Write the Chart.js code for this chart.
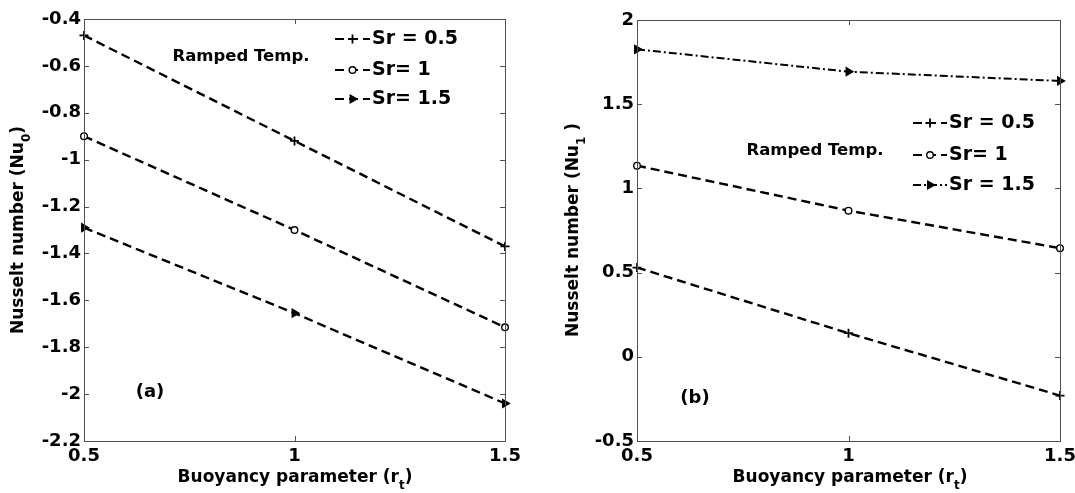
<!DOCTYPE html>
<html><head><meta charset="utf-8">
<script src="https://cdn.jsdelivr.net/npm/chart.js@4"></script>
<style>
html,body{margin:0;padding:0;background:#fff;width:1075px;height:493px;overflow:hidden;position:relative}
canvas{position:absolute;top:0}
#ca{left:0px} #cb{left:540px}
</style></head><body>
<canvas id="ca" width="540" height="493"></canvas>
<canvas id="cb" width="545" height="493"></canvas>
<script>
// ---- data ----
const buoyancy = [0.5, 1, 1.5];
const xTicks = [0.5, 1, 1.5];
const nu0Ticks = [-2.2, -2, -1.8, -1.6, -1.4, -1.2, -1, -0.8, -0.6, -0.4];
const nu1Ticks = [-0.5, 0, 0.5, 1, 1.5, 2];
const nu0Sr05 = [-0.47, -0.92, -1.37];
const nu0Sr1 = [-0.90, -1.30, -1.715];
const nu0Sr15 = [-1.29, -1.655, -2.04];
const nu1Sr05 = [0.53, 0.14, -0.23];
const nu1Sr1 = [1.135, 0.868, 0.645];
const nu1Sr15 = [1.826, 1.693, 1.638];
const legendA = ['Sr = 0.5', 'Sr= 1', 'Sr= 1.5'];
const legendB = ['Sr = 0.5', 'Sr= 1', 'Sr = 1.5'];

const FONT = "'DejaVu Sans', Verdana, sans-serif";
Chart.defaults.color = '#000';
Chart.defaults.font.family = FONT;

function pts(ys) { return buoyancy.map((x, i) => ({x: x, y: ys[i]})); }

function ds(label, ys, marker, dash, width) {
  const base = {
    label: label, data: pts(ys), borderColor: '#000', borderWidth: width || 2.4,
    borderDash: dash, tension: 0, fill: false, clip: false,
    pointBorderColor: '#000', pointBorderWidth: 1.4, pointHoverRadius: 0
  };
  if (marker === 'plus') Object.assign(base, {pointStyle: 'cross', pointRadius: 4.5, pointBackgroundColor: '#000', pointBorderWidth: 1.8});
  if (marker === 'circle') Object.assign(base, {pointStyle: 'circle', pointRadius: 3.3, pointBackgroundColor: '#fff'});
  if (marker === 'tri') Object.assign(base, {pointStyle: 'triangle', pointRotation: 90, pointRadius: 4.5, pointBackgroundColor: '#000'});
  return base;
}

function drawParts(ctx, parts, x, y, rot, size) {
  ctx.save();
  ctx.translate(x, y);
  ctx.rotate(rot);
  const big = 'bold ' + size + 'px ' + FONT;
  const small = 'bold ' + Math.round(size * 0.72) + 'px ' + FONT;
  let total = 0;
  parts.forEach(p => { ctx.font = p.sub ? small : big; total += ctx.measureText(p.t).width; });
  let cx = -total / 2;
  ctx.textBaseline = 'middle';
  ctx.textAlign = 'left';
  ctx.fillStyle = '#000';
  parts.forEach(p => {
    ctx.font = p.sub ? small : big;
    ctx.fillText(p.t, cx, p.sub ? size * 0.45 : 0);
    cx += ctx.measureText(p.t).width;
  });
  ctx.restore();
}

const decoPlugin = {
  id: 'deco',
  afterDatasetsDraw(chart, args, o) {
    const ctx = chart.ctx;
    const a = chart.chartArea;
    const xs = chart.scales.x, ys = chart.scales.y;
    // box + inward ticks
    ctx.save();
    ctx.strokeStyle = '#505050';
    ctx.lineWidth = 1;
    ctx.strokeRect(Math.round(a.left) + 0.5, Math.round(a.top) + 0.5, Math.round(a.right - a.left), Math.round(a.bottom - a.top));
    ctx.beginPath();
    xs.ticks.forEach(t => {
      const px = Math.round(xs.getPixelForValue(t.value)) + 0.5;
      ctx.moveTo(px, a.bottom); ctx.lineTo(px, a.bottom - 5);
      ctx.moveTo(px, a.top); ctx.lineTo(px, a.top + 5);
    });
    ys.ticks.forEach(t => {
      const py = Math.round(ys.getPixelForValue(t.value)) + 0.5;
      ctx.moveTo(a.left, py); ctx.lineTo(a.left + 5, py);
      ctx.moveTo(a.right, py); ctx.lineTo(a.right - 5, py);
    });
    ctx.stroke();
    ctx.restore();
    // legend
    const L = o.legend;
    chart.data.datasets.forEach((d, i) => {
      const y = L.ys[i];
      ctx.save();
      ctx.strokeStyle = '#000';
      ctx.lineWidth = 2.2;
      ctx.setLineDash(d.borderDash);
      ctx.beginPath(); ctx.moveTo(L.x0, y); ctx.lineTo(L.x1, y); ctx.stroke();
      ctx.setLineDash([]);
      ctx.fillStyle = d.pointBackgroundColor;
      ctx.strokeStyle = '#000';
      ctx.lineWidth = d.pointBorderWidth;
      Chart.helpers.drawPoint(ctx, {pointStyle: d.pointStyle, rotation: d.pointRotation || 0, radius: d.pointRadius, borderWidth: d.pointBorderWidth}, (L.x0 + L.x1) / 2, y);
      ctx.fillStyle = '#000';
      ctx.font = 'bold 19px ' + FONT;
      ctx.textBaseline = 'middle';
      ctx.textAlign = 'left';
      ctx.fillText(d.label, L.tx, y);
      ctx.restore();
    });
    // notes and axis titles
    o.notes.forEach(n => drawParts(ctx, [{t: n.t}], n.x, n.y, 0, n.size));
    drawParts(ctx, o.yTitle.parts, o.yTitle.x, o.yTitle.y, -Math.PI / 2, 17);
    drawParts(ctx, o.xTitle.parts, o.xTitle.x, o.xTitle.y, 0, 17);
  }
};

function makeChart(id, datasets, yTicks, plot, deco) {
  const cv = document.getElementById(id);
  return new Chart(cv, {
    type: 'line',
    data: {datasets: datasets},
    plugins: [decoPlugin],
    options: {
      responsive: false, animation: false, devicePixelRatio: 1,
      layout: {padding: {top: plot.top, right: cv.width - plot.right, left: 0, bottom: 0}},
      plugins: {legend: {display: false}, tooltip: {enabled: false}, deco: deco},
      scales: {
        x: {
          type: 'linear', min: xTicks[0], max: xTicks[xTicks.length - 1],
          grid: {display: false, drawTicks: false}, border: {display: false},
          afterBuildTicks: s => { s.ticks = xTicks.map(v => ({value: v})); },
          afterFit: s => { s.height = cv.height - plot.bottom; },
          ticks: {font: {size: 18, weight: 'bold'}, padding: 5, maxRotation: 0, callback: v => String(v)}
        },
        y: {
          type: 'linear', min: yTicks[0], max: yTicks[yTicks.length - 1],
          grid: {display: false, drawTicks: false}, border: {display: false},
          afterBuildTicks: s => { s.ticks = yTicks.map(v => ({value: v})); },
          afterFit: s => { s.width = plot.left; },
          ticks: {font: {size: 18, weight: 'bold'}, padding: 3, callback: v => String(v)}
        }
      }
    }
  });
}

makeChart('ca', [
  ds(legendA[0], nu0Sr05, 'plus', [9, 5]),
  ds(legendA[1], nu0Sr1, 'circle', [9, 5]),
  ds(legendA[2], nu0Sr15, 'tri', [9, 5])
], nu0Ticks, {left: 84, right: 505, top: 19, bottom: 441}, {
  legend: {x0: 335, x1: 370, tx: 372, ys: [39, 70, 99]},
  notes: [{t: 'Ramped Temp.', x: 241, y: 57, size: 16.5}, {t: '(a)', x: 150, y: 392, size: 18}],
  yTitle: {x: 19, y: 230, parts: [{t: 'Nusselt number (Nu'}, {t: '0', sub: true}, {t: ')'}]},
  xTitle: {x: 295, y: 478, parts: [{t: 'Buoyancy parameter (r'}, {t: 't', sub: true}, {t: ')'}]}
});

makeChart('cb', [
  ds(legendB[0], nu1Sr05, 'plus', [9, 5]),
  ds(legendB[1], nu1Sr1, 'circle', [9, 5]),
  ds(legendB[2], nu1Sr15, 'tri', [8, 3, 2, 3], 2)
], nu1Ticks, {left: 97, right: 520, top: 20, bottom: 441}, {
  legend: {x0: 373, x1: 407, tx: 409, ys: [123, 155, 185]},
  notes: [{t: 'Ramped Temp.', x: 275, y: 151, size: 16.5}, {t: '(b)', x: 155, y: 398, size: 18}],
  yTitle: {x: 34, y: 230, parts: [{t: 'Nusselt number (Nu'}, {t: '1', sub: true}, {t: ' )'}]},
  xTitle: {x: 310, y: 478, parts: [{t: 'Buoyancy parameter (r'}, {t: 't', sub: true}, {t: ')'}]}
});
</script>
</body></html>
